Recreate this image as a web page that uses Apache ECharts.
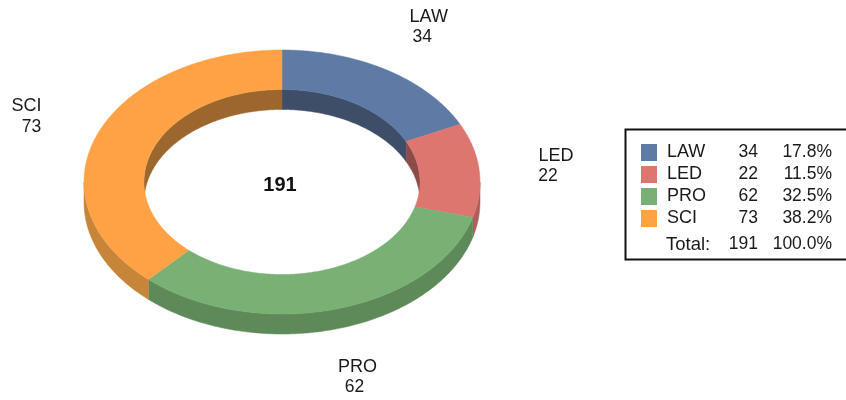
<!DOCTYPE html>
<html>
<head>
<meta charset="utf-8">
<style>html,body{margin:0;padding:0;background:#fff;overflow:hidden}#c{width:846px;height:400px;filter:blur(0.45px)}</style>
<script src="https://cdn.jsdelivr.net/npm/echarts@6/dist/echarts.min.js"></script>
</head>
<body>
<div id="c"></div>
<script>
const categories = ['LAW', 'LED', 'PRO', 'SCI'];
const values = [34, 22, 62, 73];
const percents = ['17.8%', '11.5%', '32.5%', '38.2%'];
const totalValue = 191;
const totalPercent = '100.0%';
const topColors = ['#5F7BA5', '#DE7670', '#79B074', '#FFA245'];
const outerWallColors = ['#4A6080', '#B05E5A', '#5E8A5A', '#C68538'];
const innerWallColors = ['#3E4D68', '#8C4B48', '#4E7349', '#9C672F'];

const FONT = '"Liberation Sans", Arial, sans-serif';
const LABEL_SIZE = 17.5;
const NAME_SIZE = 18;
const RING = { cx: 282, cy: 182, rx: 198, ry: 132, irx: 138, iry: 92.5, depth: 20 };
// offsets of each label's name and value from the anchor at the slice's mid-angle
const nameOffsets = [[0.7, -9.4], [0, -9.4], [-0.5, -10.9], [1, -9.6]];
const valueOffsets = [[-5.8, 10.6], [-8, 10.6], [-3.5, 8.6], [6, 11.4]];

const total = values.reduce((a, b) => a + b, 0);
function sliceAngles(i) {
  let s = 0;
  for (let k = 0; k < i; k++) s += values[k];
  return [s / total * Math.PI * 2, (s + values[i]) / total * Math.PI * 2];
}
function arc(rx, ry, dy, a0, a1) {
  const n = Math.max(2, Math.ceil((a1 - a0) / 0.01));
  const pts = [];
  for (let j = 0; j <= n; j++) {
    const a = a0 + (a1 - a0) * j / n;
    pts.push([RING.cx + rx * Math.sin(a), RING.cy - ry * Math.cos(a) + dy]);
  }
  return pts;
}
function band(rx0, ry0, dy0, rx1, ry1, dy1, a0, a1) {
  return arc(rx0, ry0, dy0, a0, a1).concat(arc(rx1, ry1, dy1, a0, a1).reverse());
}
function poly(points, fill, z2) {
  return { type: 'polygon', shape: { points }, style: { fill, stroke: fill, lineWidth: 0.5 }, z2 };
}
function labelText(x, y, text, size) {
  return { type: 'text', z2: 5, style: { x, y, text, fill: '#1a1a1a', font: size + 'px ' + FONT,
    align: 'center', verticalAlign: 'middle' } };
}
function renderSlice(i) {
  const [a0, a1] = sliceAngles(i);
  const R = RING, children = [];
  // inner wall: only the back half of the hole is visible
  const parts = [[a0, Math.min(a1, Math.PI / 2)], [Math.max(a0, Math.PI * 1.5), a1]];
  parts.forEach(p => {
    if (p[1] > p[0]) children.push(poly(band(R.irx, R.iry, 0, R.irx, R.iry, R.depth, p[0], p[1]), innerWallColors[i], 1));
  });
  // outer wall: only the front half is visible
  const f0 = Math.max(a0, Math.PI / 2), f1 = Math.min(a1, Math.PI * 1.5);
  if (f1 > f0) children.push(poly(band(R.rx, R.ry, 0, R.rx, R.ry, R.depth, f0, f1), outerWallColors[i], 2));
  // top face
  children.push(poly(band(R.rx, R.ry, 0, R.irx, R.iry, 0, a0, a1), topColors[i], 3));
  // outside label, anchored at the slice's mid-angle
  const m = (a0 + a1) / 2;
  const lx = R.cx + R.rx * 1.39 * Math.sin(m);
  const ly = R.cy - R.ry * 1.39 * Math.cos(m) + (Math.cos(m) < 0 ? R.depth : 0);
  children.push(labelText(lx + nameOffsets[i][0], ly + nameOffsets[i][1], categories[i], NAME_SIZE));
  children.push(labelText(lx + valueOffsets[i][0], ly + valueOffsets[i][1], String(values[i]), LABEL_SIZE));
  return { type: 'group', children };
}

const series = categories.map((name, i) => ({
  type: 'custom', name, coordinateSystem: 'none',
  itemStyle: { color: topColors[i] },
  data: [values[i]],
  renderItem: () => renderSlice(i),
  silent: true, animation: false
}));

const cell = { fontFamily: FONT, fontSize: LABEL_SIZE, color: '#1a1a1a', lineHeight: 17 };
const RICH = {
  n: Object.assign({}, cell, { fontSize: NAME_SIZE, width: 66, align: 'left', padding: [0, 0, 0, 5] }),
  v: Object.assign({ width: 25, align: 'right' }, cell),
  p: Object.assign({ width: 74, align: 'right' }, cell)
};

const option = {
  backgroundColor: '#fff',
  animation: false,
  title: {
    text: String(totalValue), left: 275, top: 170, textAlign: 'center',
    textStyle: { fontFamily: FONT, fontSize: 20, fontWeight: 'bold', color: '#111' }
  },
  legend: {
    data: categories, orient: 'vertical', left: 636, top: 138.5,
    padding: 5, itemWidth: 16, itemHeight: 17, itemGap: 4, icon: 'rect',
    selectedMode: false, textStyle: { rich: RICH },
    formatter: name => {
      const i = categories.indexOf(name);
      return `{n|${name}}{v|${values[i]}}{p|${percents[i]}}`;
    }
  },
  graphic: [
    { type: 'rect', z: -1, shape: { x: 625.5, y: 129.5, width: 230, height: 130 },
      style: { fill: '#fff', stroke: '#111', lineWidth: 2 } },
    { type: 'text', left: 666, top: 235,
      style: { text: 'Total:', font: '18.5px ' + FONT, fill: '#1a1a1a' } },
    { type: 'text', right: 88, top: 235,
      style: { text: String(totalValue), font: LABEL_SIZE + 'px ' + FONT, fill: '#1a1a1a' } },
    { type: 'text', right: 14, top: 235,
      style: { text: totalPercent, font: LABEL_SIZE + 'px ' + FONT, fill: '#1a1a1a' } }
  ],
  series
};
echarts.init(document.getElementById('c'), null, { renderer: 'canvas' }).setOption(option);
</script>
</body>
</html>
